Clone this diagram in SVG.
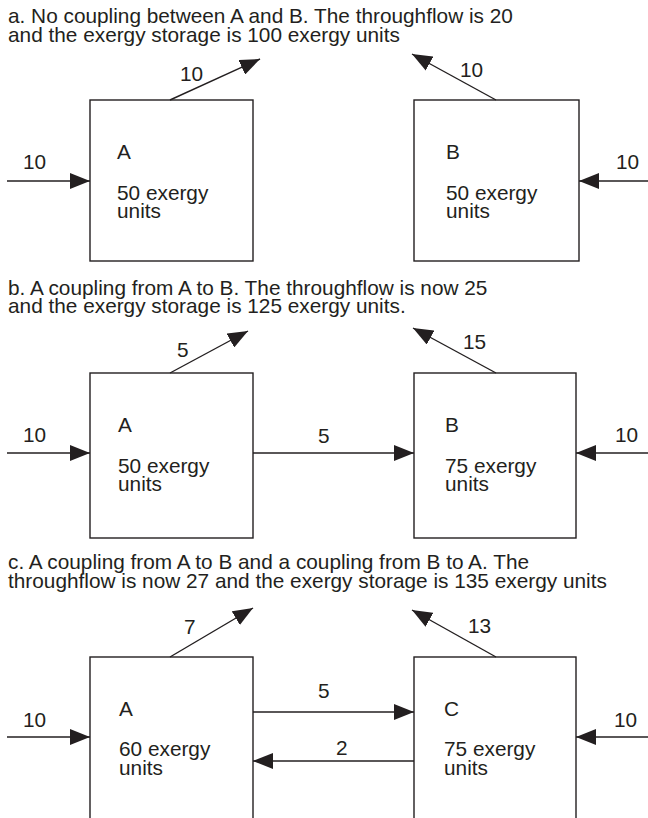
<svg xmlns="http://www.w3.org/2000/svg" width="648" height="818" viewBox="0 0 648 818">
<style>
text{font-family:"Liberation Sans",Arial,sans-serif;font-size:20.8px;fill:#231f20}
.box{fill:#fff;stroke:#231f20;stroke-width:1.4}
.ln{stroke:#231f20;stroke-width:1.4;fill:none;marker-end:url(#ah)}
</style>
<defs>
<marker id="ah" markerUnits="userSpaceOnUse" markerWidth="20" markerHeight="16" refX="20" refY="8" orient="auto" viewBox="0 0 20 16">
<path d="M0,0 L20,8 L0,16 z" fill="#231f20"/>
</marker>
</defs>
<rect width="648" height="818" fill="#fff"/>
<g id="titles">
<text x="8" y="23">a. No coupling between A and B. The throughflow is 20</text>
<text x="8" y="42">and the exergy storage is 100 exergy units</text>
<text x="8" y="295">b. A coupling from A to B. The throughflow is now 25</text>
<text x="8" y="313">and the exergy storage is 125 exergy units.</text>
<text x="8" y="569">c. A coupling from A to B and a coupling from B to A. The</text>
<text x="8" y="588">throughflow is now 27 and the exergy storage is 135 exergy units</text>
</g>
<g id="a-A"><rect class="box" x="90" y="100" width="163" height="161"/><text x="117" y="159">A</text><text x="117" y="200">50 exergy</text><text x="117" y="218">units</text></g>
<g id="a-B"><rect class="box" x="414" y="100" width="165" height="161"/><text x="446" y="159">B</text><text x="446" y="200">50 exergy</text><text x="446" y="218">units</text></g>
<g id="b-A"><rect class="box" x="90" y="373" width="163" height="165"/><text x="118" y="432">A</text><text x="118" y="473">50 exergy</text><text x="118" y="491">units</text></g>
<g id="b-B"><rect class="box" x="414" y="373" width="162" height="165"/><text x="445" y="432">B</text><text x="445" y="473">75 exergy</text><text x="445" y="491">units</text></g>
<g id="c-A"><rect class="box" x="90" y="657" width="163" height="170"/><text x="119" y="716">A</text><text x="119" y="756">60 exergy</text><text x="119" y="775">units</text></g>
<g id="c-C"><rect class="box" x="414" y="657" width="162" height="170"/><text x="444" y="716">C</text><text x="444" y="756">75 exergy</text><text x="444" y="775">units</text></g>
<g id="connectors">
<line class="ln" x1="7" y1="181" x2="90" y2="181"/>
<line class="ln" x1="648" y1="181" x2="579" y2="181"/>
<line class="ln" x1="170" y1="100" x2="260" y2="59"/>
<line class="ln" x1="496" y1="100" x2="412" y2="54"/>
<line class="ln" x1="7" y1="453" x2="90" y2="453"/>
<line class="ln" x1="648" y1="453" x2="576" y2="453"/>
<line class="ln" x1="253" y1="453" x2="414" y2="453"/>
<line class="ln" x1="170" y1="373" x2="248" y2="331"/>
<line class="ln" x1="496" y1="373" x2="413" y2="328"/>
<line class="ln" x1="7" y1="737" x2="90" y2="737"/>
<line class="ln" x1="648" y1="737" x2="576" y2="737"/>
<line class="ln" x1="253" y1="712" x2="414" y2="712"/>
<line class="ln" x1="414" y1="761" x2="253" y2="761"/>
<line class="ln" x1="170" y1="657" x2="253" y2="608"/>
<line class="ln" x1="496" y1="657" x2="412" y2="610"/>
</g>
<g id="labels">
<text x="23" y="169">10</text>
<text x="616" y="169">10</text>
<text x="180" y="81">10</text>
<text x="460" y="77">10</text>
<text x="23" y="442">10</text>
<text x="615" y="442">10</text>
<text x="318" y="443">5</text>
<text x="177" y="357">5</text>
<text x="463" y="349">15</text>
<text x="23" y="727">10</text>
<text x="614" y="727">10</text>
<text x="318" y="698">5</text>
<text x="336" y="755">2</text>
<text x="184" y="634">7</text>
<text x="468" y="633">13</text>
</g>
</svg>
